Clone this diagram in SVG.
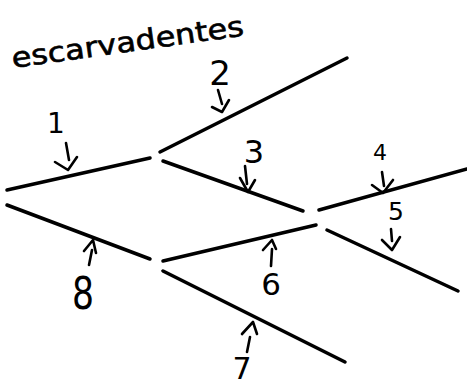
<svg xmlns="http://www.w3.org/2000/svg" width="467" height="385" viewBox="0 0 467 385">
<style>
.ln{fill:none;stroke:#000;stroke-width:3.5;stroke-linecap:round;stroke-linejoin:round}
.ar{fill:none;stroke:#000;stroke-width:2.6;stroke-linecap:round;stroke-linejoin:round}
.lb{font-family:"DejaVu Sans",sans-serif;fill:#000;text-anchor:middle}
.tt{font-family:"DejaVu Sans",sans-serif;fill:#000;stroke:#000;stroke-width:0.6;font-size:28px}
</style>
<rect width="467" height="385" fill="#fff"/>
<text class="tt" x="13" y="68" transform="rotate(-8 13 68)" textLength="234" lengthAdjust="spacingAndGlyphs">escarvadentes</text>
<g id="connectors">
<path class="ln" d="M7,190 L150,158"/>
<path class="ln" d="M160,152 L347,58"/>
<path class="ln" d="M163,161 L303,211"/>
<path class="ln" d="M319,210 L467,169"/>
<path class="ln" d="M327,230 L458,291"/>
<path class="ln" d="M163,261 L316,225"/>
<path class="ln" d="M163,271 L345,362"/>
<path class="ln" d="M7,205 L150,259"/>
</g>
<g id="n1"><text class="lb" x="56" y="133" font-size="28">1</text><path class="ar" d="M66,143 L69,160 M55,162 L68,170 L77,157"/></g>
<g id="n2"><text class="lb" x="220" y="85" font-size="34">2</text><path class="ar" d="M218,90 L222,104 M212,107 L222,112 L229,100"/></g>
<g id="n3"><text class="lb" x="254" y="163" font-size="32">3</text><path class="ar" d="M245,166 L247,184 M240,178 L248,192 L255,180"/></g>
<g id="n4"><text class="lb" x="380" y="160" font-size="22">4</text><path class="ar" d="M382,172 L384,186 M372,185 L383,193 L393,180"/></g>
<g id="n5"><text class="lb" x="396" y="220" font-size="25">5</text><path class="ar" d="M391,229 L392,241 M382,240 L392,250 L400,237"/></g>
<g id="n6"><text class="lb" x="271" y="295" font-size="31">6</text><path class="ar" d="M271,266 L272,249 M263,250 L272,240 L276,249"/></g>
<g id="n7"><text class="lb" x="242" y="379" font-size="30">7</text><path class="ar" d="M247,352 L250,337 M242,334 L253,322 L257,334"/></g>
<g id="n8"><text class="lb" x="83" y="309" font-size="44" textLength="22" lengthAdjust="spacingAndGlyphs">8</text><path class="ar" d="M89,265 L92,250 M84,251 L93,240 L96,253"/></g>
</svg>
